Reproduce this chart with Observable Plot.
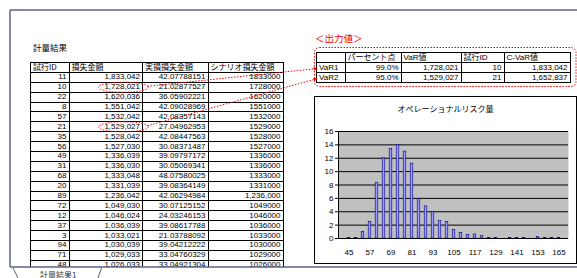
<!DOCTYPE html>
<html><head><meta charset="utf-8">
<script src="https://cdn.jsdelivr.net/npm/d3@7"></script>
<script src="https://cdn.jsdelivr.net/npm/@observablehq/plot@0.6"></script>
<style>
html,body{margin:0;padding:0;background:#fff;}
#page{position:relative;width:577px;height:278px;overflow:hidden;font-family:"Liberation Sans","Noto Sans CJK JP",sans-serif;color:#000;}
.abs{position:absolute;}
table{border-collapse:collapse;table-layout:fixed;}
td{border:1px solid #000;padding:0 2px;font-size:8px;line-height:8px;white-space:nowrap;overflow:hidden;box-sizing:border-box;}
td.r{text-align:right;}
td.l{text-align:left;}
#res tr{height:9.9px;}
#out tr{height:10px;}
#chartbox{position:absolute;left:314px;top:96px;width:263px;height:168px;border:1px solid #000;box-sizing:border-box;background:#fff;}
#ctitle{height:23px;line-height:23px;text-align:center;font-size:8px;font-family:"Noto Sans CJK JP",sans-serif;}
svg#deco{position:absolute;left:0;top:0;pointer-events:none;}
</style></head>
<body>
<div id="page">
  <div class="abs" style="left:33px;top:42px;font-size:8.5px;font-family:'Noto Sans CJK JP',sans-serif;line-height:10px;">計量結果</div>
  <div class="abs" id="reswrap" style="left:30px;top:62px;width:254px;height:205px;overflow:hidden;">
    <table id="res" style="width:253px;"><colgroup><col style="width:38.5px"><col style="width:73.5px"><col style="width:65.5px"><col style="width:75px"></colgroup><tbody></tbody></table>
  </div>
  <div class="abs" style="left:315px;top:33px;font-size:9.5px;line-height:11px;color:#ff0000;font-family:'Noto Sans CJK JP',sans-serif;">＜出力値＞</div>
  <div class="abs" style="left:316px;top:52px;">
    <table id="out" style="width:254px;"><colgroup><col style="width:28.5px"><col style="width:56px"><col style="width:60px"><col style="width:43px"><col style="width:66px"></colgroup><tbody></tbody></table>
  </div>
  <div id="chartbox"><div id="ctitle">オペレーショナルリスク量</div><div id="plot"></div></div>
  <div class="abs" style="left:40px;top:270px;font-size:8px;line-height:9px;color:#333;font-family:'Noto Sans CJK JP',sans-serif;">計量結果1</div>
  <svg id="deco" width="577" height="278"></svg>
</div>
<script>
// ---- result table data ----
const headers = ["試行ID","損失金額","実損損失金額","シナリオ損失金額"];
const trialIds = [11,10,22,8,57,21,35,56,49,31,68,20,89,72,12,37,3,94,71,48];
const lossAmounts = [1833042,1728021,1620036,1551042,1532042,1529027,1528042,1527030,1336039,1336030,1333048,1331039,1236042,1049030,1046024,1036039,1033021,1030039,1029033,1026033];
const actualLoss = ["42.07788151","21.02877527","36.05902221","42.09028969","42.08357143","27.04962953","42.08447563","30.08371487","39.09797172","30.05069341","48.07580025","39.08364149","42.06294984","30.07125152","24.03246153","39.08617788","21.03788092","39.04212222","33.04760329","33.04921304"];
const scenarioLoss = ["1833000","1728000","1620000","1551000","1532000","1529000","1528000","1527000","1336000","1336000","1333000","1331000","1,236,000","1049000","1046000","1036000","1033000","1030000","1029000","1026000"];

// ---- output table data ----
const outHeaders = ["","パーセント点","VaR値","試行ID","C-VaR値"];
const varLabels = ["VaR1","VaR2"];
const percentPoints = ["99.0%","95.0%"];
const varValues = [1728021,1529027];
const varTrialIds = [10,21];
const cvarValues = [1833042,1652837];

// ---- histogram data ----
const bins = [45,49,53,57,61,65,69,73,77,81,85,89,93,97,101,105,109,113,117,121,125,129,133,137,141,145,149,153,157,161,165];
const freq = [0.1,0.1,1.0,2.5,8.3,12.0,13.4,14.0,13.0,11.2,5.9,4.8,4.0,2.6,2.5,1.3,0.8,0.5,0.6,0.4,0.1,0.1,0,0.1,0.1,0.1,0,0.2,0.1,0.1,0.1];
const xTickLabels = [45,57,69,81,93,105,117,129,141,153,165];
const yTickValues = [0,2,4,6,8,10,12,14,16];

const fmt = d3.format(",");

// build result table
const rb = d3.select("#res tbody");
const hr = rb.append("tr");
headers.forEach(h => hr.append("td").attr("class","l").style("font-family","'Noto Sans CJK JP',sans-serif").text(h));
trialIds.forEach((id,i) => {
  const tr = rb.append("tr").attr("data-id", id);
  tr.append("td").attr("class","r").text(id);
  tr.append("td").attr("class","r loss").text(fmt(lossAmounts[i]));
  tr.append("td").attr("class","r").text(actualLoss[i]);
  tr.append("td").attr("class","r").text(scenarioLoss[i]);
});

// build output table
const ob = d3.select("#out tbody");
const ohr = ob.append("tr");
outHeaders.forEach(h => ohr.append("td").attr("class","l").style("font-family","'Liberation Sans','Noto Sans CJK JP',sans-serif").text(h));
varLabels.forEach((v,i) => {
  const tr = ob.append("tr").attr("data-var", varTrialIds[i]);
  tr.append("td").attr("class","l varlab").text(v);
  tr.append("td").attr("class","r").text(percentPoints[i]);
  tr.append("td").attr("class","r").text(fmt(varValues[i]));
  tr.append("td").attr("class","r").text(varTrialIds[i]);
  tr.append("td").attr("class","r").text(fmt(cvarValues[i]));
});

// histogram
const data = bins.map((b,i) => ({bin: b, v: freq[i]}));
const chart = Plot.plot({
  width: 261, height: 142,
  marginLeft: 23, marginRight: 8, marginTop: 11, marginBottom: 24,
  style: {fontFamily: "Liberation Sans, Arial, sans-serif", fontSize: "8px", background: "transparent", color: "#000", overflow: "visible"},
  x: {type: "band", domain: bins, padding: 0, label: null},
  y: {domain: [0,16], label: null},
  marks: [
    Plot.frame({fill: "#c0c0c0", stroke: null}),
    Plot.ruleY(yTickValues, {stroke: "#000", strokeWidth: 1}),
    Plot.barY(data, {x: "bin", y: "v", fill: "#9999ff", stroke: "#000080", strokeWidth: 0.6, insetLeft: 2.2, insetRight: 2.2}),
    Plot.frame({anchor: "left", stroke: "#000"}),
    Plot.axisX(xTickLabels, {tickSize: 0, tickPadding: 11, label: null}),
    Plot.axisY(yTickValues, {tickSize: 3, tickPadding: 2, label: null})
  ]
});
document.getElementById("plot").appendChild(chart);

// decorations
const deco = d3.select("#deco");
const page = document.getElementById("page").getBoundingClientRect();
const rel = el => { const r = el.getBoundingClientRect(); return {x: r.left - page.left, y: r.top - page.top, w: r.width, h: r.height}; };
const frameColor = "#5a6288";
deco.append("line").attr("x1",10).attr("y1",10).attr("x2",577).attr("y2",10).attr("stroke",frameColor).attr("stroke-width",1.5);
deco.append("line").attr("x1",10).attr("y1",10).attr("x2",10).attr("y2",267).attr("stroke",frameColor).attr("stroke-width",1.5);
deco.append("line").attr("x1",10).attr("y1",267).attr("x2",577).attr("y2",267).attr("stroke",frameColor).attr("stroke-width",1.5);
deco.append("line").attr("x1",13).attr("y1",268).attr("x2",18).attr("y2",278).attr("stroke","#333").attr("stroke-width",0.8);
deco.append("line").attr("x1",101.5).attr("y1",268).attr("x2",98).attr("y2",278).attr("stroke","#333").attr("stroke-width",0.8);

const defs = deco.append("defs");
defs.append("marker").attr("id","ah").attr("viewBox","0 0 6 6").attr("refX",6).attr("refY",3)
  .attr("markerWidth",4).attr("markerHeight",4).attr("orient","auto")
  .append("path").attr("d","M0,0L6,3L0,6Z").attr("fill","#ff0000");

// dotted rounded rect around output
deco.append("rect").attr("x",314.5).attr("y",47.5).attr("width",261.5).attr("height",39).attr("rx",5)
  .attr("fill","none").attr("stroke","#ff0000").attr("stroke-width",1).attr("stroke-dasharray","1.5 1.5");

varTrialIds.forEach(id => {
  const row = document.querySelector(`#res tr[data-id="${id}"]`);
  const cell = rel(row.querySelector("td.loss"));
  const target = rel(document.querySelector(`#out tr[data-var="${id}"] td.varlab`));
  const cx = cell.x + cell.w - 19, cy = cell.y + cell.h/2, rx = 25, ry = 5;
  deco.append("ellipse").attr("cx",cx).attr("cy",cy).attr("rx",rx).attr("ry",ry)
    .attr("fill","none").attr("stroke","#ff0000").attr("stroke-width",1).attr("stroke-dasharray","1.5 1.5");
  deco.append("line").attr("x1",cx+rx-1).attr("y1",cy-1).attr("x2",target.x+1).attr("y2",target.y+target.h/2+1)
    .attr("stroke","#ff0000").attr("stroke-width",1).attr("stroke-dasharray","1.5 1.5").attr("marker-end","url(#ah)");
});
</script>
</body></html>
